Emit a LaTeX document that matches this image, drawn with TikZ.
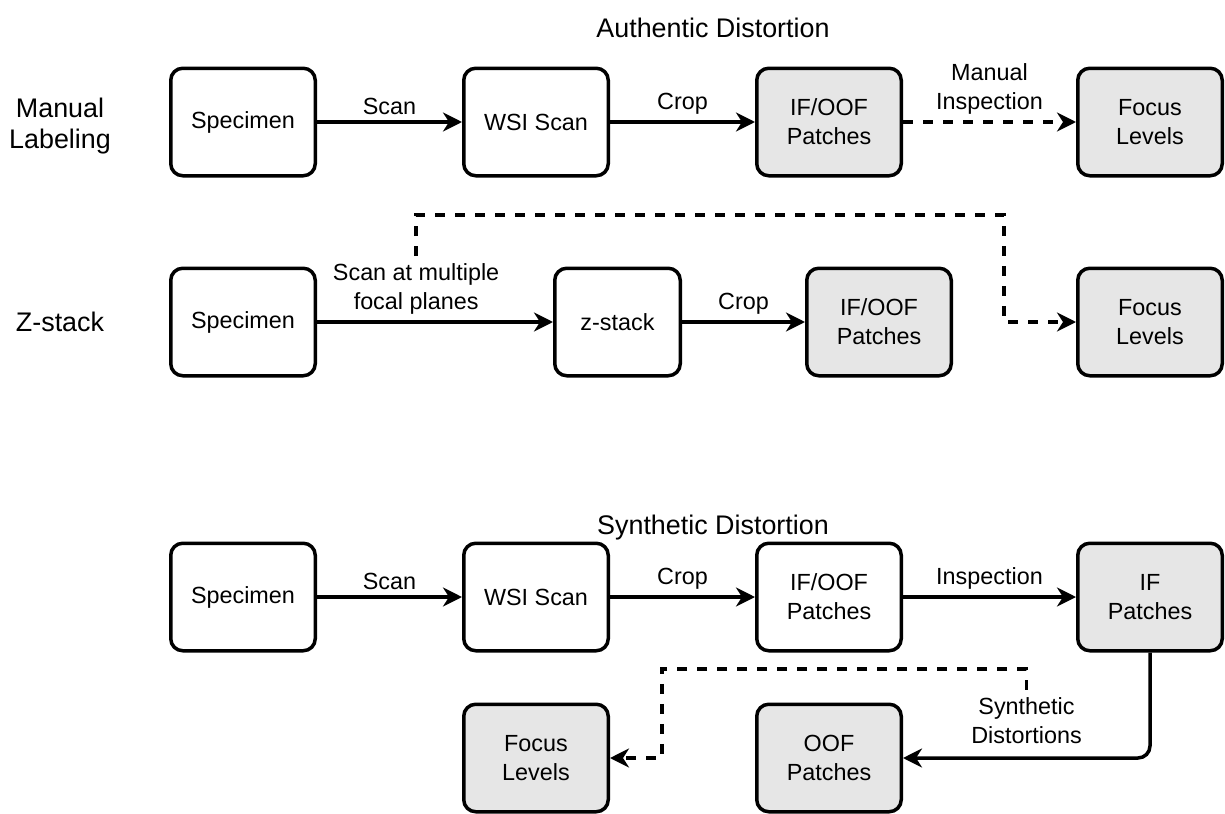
\documentclass[tikz,border=0pt]{standalone}
\usepackage{fontspec}
\setmainfont{Liberation Sans}
\usepackage{xcolor}
\usetikzlibrary{positioning, arrows.meta}
\definecolor{patchgray}{HTML}{E6E6E6}

\begin{document}
\begin{tikzpicture}[box/.style = {draw, line width=0.07cm, rounded corners=0.24cm, minimum width=2.89cm, minimum height=2.15cm, align=center, font=\fontsize{13.3}{16.5}\selectfont},
	gbox/.style = {box, fill=patchgray},
	flow/.style = {line width=0.07cm, -{Stealth[length=0.38cm, width=0.38cm, inset=0.12cm]}},
	dflow/.style = {flow, dash pattern=on 0.2cm off 0.2cm},
	lbl/.style = {font=\fontsize{13.3}{16.5}\selectfont, align=center},
	head/.style = {font=\fontsize{15.3}{17.5}\selectfont, align=center}]
	\useasboundingbox (0,0) rectangle (24.5,-16.28);
	% headings
	\node[head] (auth) at (14.26,-0.56) {Authentic Distortion};
	\node[head] (synth) at (14.26,-10.56) {Synthetic Distortion};
	\node[head] (manual) at (1.2,-2.52) {Manual\\Labeling};
	\node[head] (zrow) at (1.2,-6.44) {Z-stack};
	% manual labeling
	\node[box] (s1) at (4.86,-2.44) {Specimen};
	\node[box] (w1) [right=2.9cm of s1] {WSI Scan};
	\node[gbox] (p1) [right=2.9cm of w1] {IF/OOF\\Patches};
	\node[gbox] (f1) [right=3.46cm of p1] {Focus\\Levels};
	\draw[flow] (s1) -- node[lbl, above] {Scan} (w1);
	\draw[flow] (w1) -- node[lbl, above] {Crop} (p1);
	\draw[dflow] (p1) -- node[lbl, above] {Manual\\Inspection} (f1);
	% z-stack
	\node[box] (s2) at (4.86,-6.44) {Specimen};
	\node[box, minimum width=2.51cm] (z2) [right=4.72cm of s2] {z-stack};
	\node[gbox] (p2) [right=2.46cm of z2] {IF/OOF\\Patches};
	\node[gbox] (f2) [below=1.78cm of f1] {Focus\\Levels};
	\draw[flow] (s2) -- node[lbl, above, pos=0.42] (zl) {Scan at multiple\\focal planes} (z2);
	\draw[flow] (z2) -- node[lbl, above] {Crop} (p2);
	\coordinate (zbend) at (20.08,-4.3);
	\draw[dflow] (zl.north) |- (zbend) |- (f2);
	% synthetic distortion
	\node[box] (s3) at (4.86,-11.94) {Specimen};
	\node[box] (w3) [right=2.9cm of s3] {WSI Scan};
	\node[box] (p3) [right=2.9cm of w3] {IF/OOF\\Patches};
	\node[gbox] (i3) [right=3.46cm of p3] {IF\\Patches};
	\node[gbox] (f4) [below=1.0cm of w3] {Focus\\Levels};
	\node[gbox] (o4) [below=1.0cm of p3] {OOF\\Patches};
	\draw[flow] (s3) -- node[lbl, above] {Scan} (w3);
	\draw[flow] (w3) -- node[lbl, above] {Crop} (p3);
	\draw[flow] (p3) -- node[lbl, above] {Inspection} (i3);
	\draw[flow, rounded corners=0.24cm] (i3) |- node[lbl, above=4pt, pos=0.75] (sl) {Synthetic\\Distortions} (o4);
	\coordinate (sbend) at (13.24,-13.38);
	\draw[dflow] (sl.north) |- (sbend) |- (f4);
\end{tikzpicture}
\end{document}
